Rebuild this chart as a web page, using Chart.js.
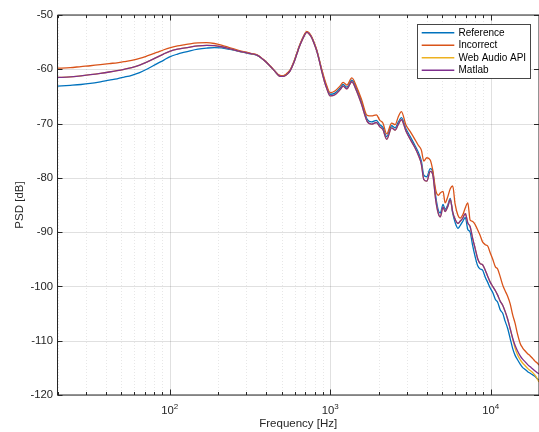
<!DOCTYPE html>
<html><head><meta charset="utf-8">
<script src="https://cdn.jsdelivr.net/npm/chart.js@4.4.1/dist/chart.umd.min.js"></script>
<style>html,body{margin:0;padding:0;background:#fff}canvas{display:block}</style>
</head><body>
<canvas id="c" width="539" height="432"></canvas>
<script>
const freqHz = [20, 24, 28, 32, 37, 42, 47, 52, 58, 65, 73, 83, 92, 100, 112, 122, 134, 150, 170, 190, 210, 238, 265, 289, 320, 350, 375, 400, 425, 450, 470, 487, 510, 530,
  545, 563, 590, 620, 640, 665, 690, 714, 740, 767, 795, 824, 855, 886, 920, 951,
  1000, 1070, 1150, 1205, 1270, 1364, 1460, 1566, 1700, 1810, 1940, 2040, 2130, 2250, 2415, 2540, 2660, 2780,
  2960, 3140, 3370, 3540, 3700, 3830, 4000, 4200, 4350, 4550, 4720, 4850, 5050, 5200, 5400, 5600, 5800, 6000,
  6250, 6450, 6700, 6950, 7200, 7450, 7700, 8000, 8300, 8600, 8900, 9250, 9600, 9930,
  10300, 10700, 11050, 11460, 11900, 12300, 12750, 13230, 13700, 14200, 14700, 15270, 15800, 16400, 17000, 17630, 18300, 18940, 19500, 20000];

const referencePSD = [-63.1, -62.95, -62.8, -62.6, -62.3, -62.0, -61.75, -61.45, -61.1, -60.6, -59.9, -59.0, -58.3, -57.7, -57.2, -56.9, -56.6, -56.3, -56.1, -56.0, -56.05, -56.35, -56.65, -56.9, -57.15, -57.45, -58.0, -58.7, -59.5, -60.3, -60.9, -61.2, -61.25, -61.0,
  -60.7, -60.2, -58.9, -57.1, -55.9, -54.7, -53.7, -53.1, -53.4, -54.1, -55.2, -56.5, -58.3, -60.2, -62.0, -63.3,
  -64.6, -64.4, -63.5, -62.8, -63.3, -62.0, -63.6, -66.0, -69.2, -69.7, -69.4, -70.2, -70.7, -72.4, -70.4, -70.8, -69.7, -68.9,
  -70.9, -72.3, -74.0, -75.3, -76.9, -79.5, -79.8, -78.3, -78.8, -83.5, -86.0, -86.5, -84.9, -85.8, -85.0, -83.8, -86.5, -88.2,
  -89.3, -88.8, -88.0, -87.3, -89.5, -90.0, -92.3, -94.5, -96.2, -96.8, -97.0, -98.3, -99.3, -100.3,
  -101.1, -102.4, -102.9, -104.3, -105.0, -106.4, -107.7, -109.6, -111.4, -112.7, -113.5, -114.3, -114.9, -115.3, -115.7, -116.0, -116.3, -116.6, -117.0, -117.2];

const incorrectPSD = [-59.8, -59.7, -59.5, -59.35, -59.15, -58.95, -58.8, -58.6, -58.35, -58.0, -57.5, -56.9, -56.4, -56.05, -55.7, -55.5, -55.3, -55.15, -55.1, -55.25, -55.55, -56.05, -56.45, -56.75, -57.05, -57.35, -57.95, -58.65, -59.45, -60.25, -60.85, -61.1, -61.15, -60.9,
  -60.6, -60.1, -58.8, -57.0, -55.8, -54.6, -53.6, -53.0, -53.3, -54.0, -55.1, -56.4, -58.2, -60.0, -61.7, -63.0,
  -64.3, -64.0, -63.1, -62.4, -62.9, -61.6, -63.2, -65.5, -68.5, -68.6, -68.4, -69.4, -69.9, -71.9, -69.9, -70.2, -68.7, -67.8,
  -70.2, -71.4, -72.9, -74.0, -74.9, -76.9, -76.3, -76.7, -78.5, -82.3, -83.2, -82.8, -82.5, -84.6, -83.5, -82.0, -81.5, -84.8,
  -86.9, -87.4, -86.8, -85.5, -84.6, -87.8, -88.0, -88.6, -89.6, -90.6, -91.8, -92.3, -92.6, -93.8,
  -95.0, -96.4, -96.8, -98.2, -99.8, -100.8, -101.8, -103.2, -105.2, -106.8, -108.8, -110.5, -111.3, -111.9, -112.4, -112.8, -113.3, -113.8, -114.1, -114.5];

const webAudioPSD = [-61.5, -61.4, -61.2, -61.0, -60.75, -60.5, -60.25, -60.0, -59.7, -59.25, -58.6, -57.8, -57.15, -56.7, -56.3, -56.1, -55.9, -55.7, -55.6, -55.65, -55.85, -56.25, -56.6, -56.85, -57.1, -57.4, -58.0, -58.7, -59.5, -60.3, -60.95, -61.3, -61.3, -61.1,
  -60.8, -60.3, -59.0, -57.2, -56.0, -54.8, -53.8, -53.2, -53.5, -54.2, -55.3, -56.6, -58.4, -60.4, -62.2, -63.5,
  -64.9, -64.7, -63.8, -63.1, -63.6, -62.3, -64.0, -66.4, -69.6, -70.1, -69.8, -70.6, -71.1, -72.9, -70.8, -71.2, -70.1, -69.3,
  -71.3, -72.8, -74.4, -75.8, -77.5, -80.3, -80.6, -78.8, -79.3, -84.2, -86.6, -87.2, -85.4, -86.2, -85.3, -84.0, -86.3, -87.6,
  -88.4, -88.0, -87.4, -86.6, -88.3, -89.0, -91.0, -93.0, -94.9, -95.8, -96.0, -97.0, -98.2, -99.2,
  -100.0, -100.8, -101.6, -102.7, -103.5, -104.6, -106.0, -107.8, -109.6, -111.4, -112.6, -113.5, -114.1, -114.6, -115.1, -115.5, -115.9, -116.4, -117.0, -117.6];

const matlabPSD = [-61.5, -61.4, -61.2, -61.0, -60.75, -60.5, -60.25, -60.0, -59.7, -59.25, -58.6, -57.8, -57.15, -56.7, -56.3, -56.1, -55.9, -55.7, -55.6, -55.65, -55.85, -56.25, -56.6, -56.85, -57.1, -57.4, -58.0, -58.7, -59.5, -60.3, -60.95, -61.3, -61.3, -61.1,
  -60.8, -60.3, -59.0, -57.2, -56.0, -54.8, -53.8, -53.2, -53.5, -54.2, -55.3, -56.6, -58.4, -60.4, -62.2, -63.5,
  -64.9, -64.7, -63.8, -63.1, -63.6, -62.3, -64.0, -66.4, -69.6, -70.1, -69.8, -70.6, -71.1, -72.9, -70.8, -71.2, -70.1, -69.3,
  -71.3, -72.8, -74.4, -75.8, -77.5, -80.3, -80.6, -78.8, -79.3, -84.2, -86.6, -87.2, -85.4, -86.2, -85.3, -84.0, -86.3, -87.6,
  -88.4, -88.0, -87.4, -86.6, -88.3, -89.0, -91.0, -93.0, -94.9, -95.8, -96.0, -97.0, -98.2, -99.2,
  -100.0, -100.8, -101.6, -102.7, -103.5, -104.6, -106.0, -107.8, -109.5, -110.9, -111.9, -112.8, -113.4, -113.9, -114.4, -114.8, -115.2, -115.6, -115.9, -116.1];

const seriesLabels = ['Reference', 'Incorrect', 'Web Audio API', 'Matlab'];
const seriesColors = ['#0072BD', '#D95319', '#EDB120', '#7E2F8E'];
const yTicks = [-120, -110, -100, -90, -80, -70, -60, -50];
const xMajorTicks = [100, 1000, 10000];
const xTickBase = ['10', '10', '10'];
const xTickExp = ['2', '3', '4'];
const xMinorTicks = [20, 30, 40, 50, 60, 70, 80, 90, 200, 300, 400, 500, 600, 700, 800, 900,
  2000, 3000, 4000, 5000, 6000, 7000, 8000, 9000];
const xTitle = 'Frequency [Hz]';
const yTitle = 'PSD [dB]';

const FONT = '"Liberation Sans", Arial, Helvetica, sans-serif';
const AXIS = '#262626';
Chart.defaults.font.family = FONT;

const seriesValues = [referencePSD, incorrectPSD, webAudioPSD, matlabPSD];
const datasets = seriesValues.map((vals, k) => ({
  label: seriesLabels[k],
  data: freqHz.map((f, i) => ({x: f, y: vals[i]})),
  borderColor: seriesColors[k],
  backgroundColor: seriesColors[k],
  borderWidth: 1.3,
  pointRadius: 0,
  cubicInterpolationMode: 'monotone',
  fill: false,
  order: 3 - k
}));

const matlabAxes = {
  id: 'matlabAxes',
  beforeDatasetsDraw(chart) {
    const {ctx, chartArea: a, scales: {x, y}} = chart;
    ctx.save();
    ctx.lineWidth = 1;
    ctx.strokeStyle = 'rgba(38,38,38,0.11)';
    ctx.setLineDash([1, 2]);
    for (const v of xMinorTicks) {
      const px = Math.round(x.getPixelForValue(v)) + 0.5;
      ctx.beginPath(); ctx.moveTo(px, a.top); ctx.lineTo(px, a.bottom); ctx.stroke();
    }
    ctx.setLineDash([]);
    ctx.strokeStyle = 'rgba(38,38,38,0.14)';
    for (const v of xMajorTicks) {
      const px = Math.round(x.getPixelForValue(v)) + 0.5;
      ctx.beginPath(); ctx.moveTo(px, a.top); ctx.lineTo(px, a.bottom); ctx.stroke();
    }
    for (const v of yTicks) {
      const py = Math.round(y.getPixelForValue(v)) + 0.5;
      ctx.beginPath(); ctx.moveTo(a.left, py); ctx.lineTo(a.right, py); ctx.stroke();
    }
    ctx.restore();
  },
  afterDatasetsDraw(chart) {
    const {ctx, chartArea: a, scales: {x, y}} = chart;
    ctx.save();
    ctx.strokeStyle = AXIS;
    ctx.lineWidth = 1;
    ctx.beginPath();
    ctx.moveTo(a.left, a.top); ctx.lineTo(a.right, a.top);
    ctx.moveTo(a.left, a.bottom); ctx.lineTo(a.right, a.bottom);
    ctx.moveTo(a.left, a.top); ctx.lineTo(a.left, a.bottom);
    ctx.moveTo(a.right, a.top); ctx.lineTo(a.right, a.bottom);
    ctx.stroke();
    ctx.beginPath();
    for (const v of xMajorTicks) {
      const px = Math.round(x.getPixelForValue(v)) + 0.5;
      ctx.moveTo(px, a.bottom); ctx.lineTo(px, a.bottom - 5.5);
      ctx.moveTo(px, a.top); ctx.lineTo(px, a.top + 5.5);
    }
    for (const v of xMinorTicks) {
      const px = Math.round(x.getPixelForValue(v)) + 0.5;
      ctx.moveTo(px, a.bottom); ctx.lineTo(px, a.bottom - 3);
      ctx.moveTo(px, a.top); ctx.lineTo(px, a.top + 3);
    }
    for (const v of yTicks) {
      const py = Math.round(y.getPixelForValue(v)) + 0.5;
      ctx.moveTo(a.left, py); ctx.lineTo(a.left + 5, py);
      ctx.moveTo(a.right, py); ctx.lineTo(a.right - 5, py);
    }
    ctx.stroke();
    ctx.restore();
  },
  afterDraw(chart) {
    const {ctx, chartArea: a, scales: {x}} = chart;
    ctx.save();
    ctx.fillStyle = AXIS;
    ctx.textBaseline = 'alphabetic';
    ctx.textAlign = 'left';
    xMajorTicks.forEach((v, i) => {
      const px = x.getPixelForValue(v);
      ctx.font = '11.3px ' + FONT;
      const w1 = ctx.measureText(xTickBase[i]).width;
      ctx.font = '8px ' + FONT;
      const w2 = ctx.measureText(xTickExp[i]).width;
      const start = px - (w1 + w2) / 2;
      ctx.font = '11.3px ' + FONT;
      ctx.fillText(xTickBase[i], start, a.bottom + 18.5);
      ctx.font = '8px ' + FONT;
      ctx.fillText(xTickExp[i], start + w1, a.bottom + 14);
    });
    const lx = 417.5, ly = 24.5, lw = 113, lh = 54;
    ctx.fillStyle = '#ffffff';
    ctx.fillRect(lx, ly, lw, lh);
    ctx.strokeStyle = 'rgba(38,38,38,0.85)';
    ctx.lineWidth = 1;
    ctx.strokeRect(lx, ly, lw, lh);
    const rowY = [32.7, 45.2, 57.7, 70.2];
    ctx.font = '10px ' + FONT;
    ctx.textBaseline = 'middle';
    chart.data.datasets.forEach((ds, i) => {
      ctx.strokeStyle = ds.borderColor;
      ctx.lineWidth = 1.5;
      ctx.beginPath(); ctx.moveTo(421.7, rowY[i]); ctx.lineTo(454.3, rowY[i]); ctx.stroke();
      ctx.fillStyle = '#000000';
      ctx.fillText(ds.label, 458.5, rowY[i] + 0.5);
    });
    ctx.restore();
  }
};

new Chart(document.getElementById('c'), {
  type: 'line',
  data: {datasets},
  options: {
    responsive: false,
    animation: false,
    devicePixelRatio: 1,
    layout: {padding: {top: 15, right: 0, bottom: 0, left: 0}},
    plugins: {legend: {display: false}, tooltip: {enabled: false}},
    scales: {
      x: {
        type: 'logarithmic', min: 20, max: 20000,
        afterBuildTicks: s => { s.ticks = xMajorTicks.map(v => ({value: v})); },
        afterFit: s => { s.height = 37; },
        grid: {display: false, drawTicks: false},
        border: {display: false},
        ticks: {display: false},
        title: {display: true, text: xTitle, color: AXIS, font: {size: 11.5}, padding: {top: 0, bottom: 1}}
      },
      y: {
        type: 'linear', min: -120, max: -50,
        afterBuildTicks: s => { s.ticks = yTicks.map(v => ({value: v})); },
        afterFit: s => { s.width = 57.5; },
        grid: {display: false, drawTicks: false},
        border: {display: false},
        ticks: {color: AXIS, font: {size: 11.3}, padding: 4.5, callback: v => String(v)},
        title: {display: true, text: yTitle, color: AXIS, font: {size: 11.5}, padding: {top: 12.6, bottom: 0}}
      }
    }
  },
  plugins: [matlabAxes]
});
</script>
</body></html>
